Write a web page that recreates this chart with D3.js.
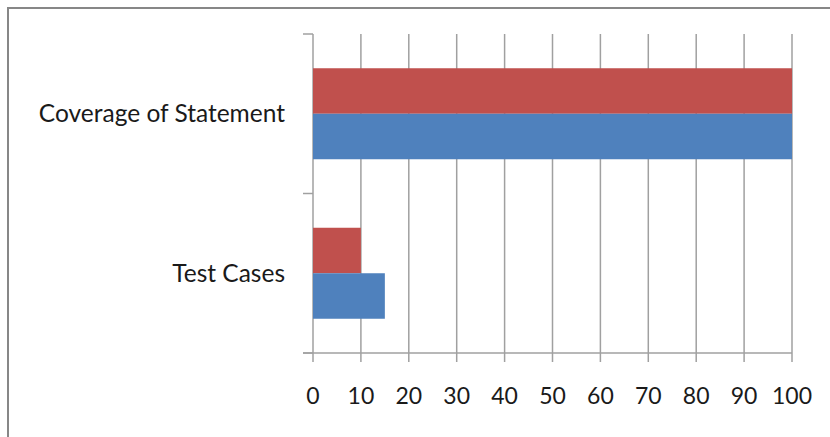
<!DOCTYPE html>
<html>
<head>
<meta charset="utf-8">
<script src="https://cdnjs.cloudflare.com/ajax/libs/d3/7.8.5/d3.min.js"></script>
<style>
    * { margin: 0; padding: 0; }
    body { background: #fff; }
    text { font-family: Lato, "Open Sans", sans-serif; fill: #1a1a1a; }
</style>
</head>
<body>
<script>
    // categories, top to bottom
    var categories = ["Coverage of Statement", "Test Cases"];
    var seriesNames = ["Series 2", "Series 1"];
    var redValues = [100, 10];
    var blueValues = [100, 15];
    var xTicks = [0, 10, 20, 30, 40, 50, 60, 70, 80, 90, 100];

    var W = 830, H = 437;
    var plot = { left: 313, right: 792, top: 34, bottom: 353 };

    var svg = d3.select("body").append("svg")
        .attr("width", W)
        .attr("height", H);

    // outer frame (right/bottom edges fall outside the picture)
    svg.append("rect")
        .attr("x", 8).attr("y", 8)
        .attr("width", W).attr("height", H)
        .attr("fill", "none")
        .attr("stroke", "#878787")
        .attr("stroke-width", 2);

    var x = d3.scaleLinear().domain([0, 100]).range([plot.left, plot.right]);
    var y = d3.scaleBand().domain(categories).range([plot.top, plot.bottom]);
    var inner = d3.scaleBand().domain(seriesNames)
        .range([0, 91]);
    var pad = (y.bandwidth() - 91) / 2;

    var gridColor = "#a0a0a0";

    // vertical gridlines, running down past the axis as tick marks
    svg.selectAll(".grid")
        .data(xTicks)
        .enter().append("line")
        .attr("class", "grid")
        .attr("x1", function(d) { return x(d); })
        .attr("x2", function(d) { return x(d); })
        .attr("y1", plot.top)
        .attr("y2", plot.bottom + 9)
        .attr("stroke", gridColor)
        .attr("stroke-width", 1.5);

    // category axis ticks (band edges)
    var edges = [plot.top, plot.top + y.bandwidth(), plot.bottom];
    svg.selectAll(".ytick")
        .data(edges)
        .enter().append("line")
        .attr("x1", plot.left - 10)
        .attr("x2", plot.left)
        .attr("y1", function(d) { return d; })
        .attr("y2", function(d) { return d; })
        .attr("stroke", gridColor)
        .attr("stroke-width", 1.5);

    // bottom axis line
    svg.append("line")
        .attr("x1", plot.left - 10).attr("x2", plot.right)
        .attr("y1", plot.bottom).attr("y2", plot.bottom)
        .attr("stroke", gridColor)
        .attr("stroke-width", 1.5);

    var rows = categories.map(function(c, i) {
        return { cat: c, vals: [
            { s: seriesNames[0], v: redValues[i], color: "#C0504D" },
            { s: seriesNames[1], v: blueValues[i], color: "#4F81BD" }
        ] };
    });

    var groups = svg.selectAll(".group")
        .data(rows)
        .enter().append("g")
        .attr("class", "group")
        .attr("transform", function(d) { return "translate(0," + (y(d.cat) + pad) + ")"; });

    groups.selectAll("rect")
        .data(function(d) { return d.vals; })
        .enter().append("rect")
        .attr("x", x(0))
        .attr("y", function(d) { return inner(d.s); })
        .attr("width", function(d) { return x(d.v) - x(0); })
        .attr("height", inner.bandwidth())
        .attr("fill", function(d) { return d.color; });

    // category labels
    svg.selectAll(".cat")
        .data(categories)
        .enter().append("text")
        .attr("class", "cat")
        .attr("x", 285)
        .attr("y", function(d) { return y(d) + y.bandwidth() / 2; })
        .attr("dy", "0.35em")
        .attr("text-anchor", "end")
        .style("font-size", "24.5px")
        .text(function(d) { return d; });

    // value labels
    svg.selectAll(".xlab")
        .data(xTicks)
        .enter().append("text")
        .attr("class", "xlab")
        .attr("x", function(d) { return x(d); })
        .attr("y", 404)
        .attr("text-anchor", "middle")
        .style("font-size", "23px")
        .text(function(d) { return d; });
</script>
</body>
</html>
